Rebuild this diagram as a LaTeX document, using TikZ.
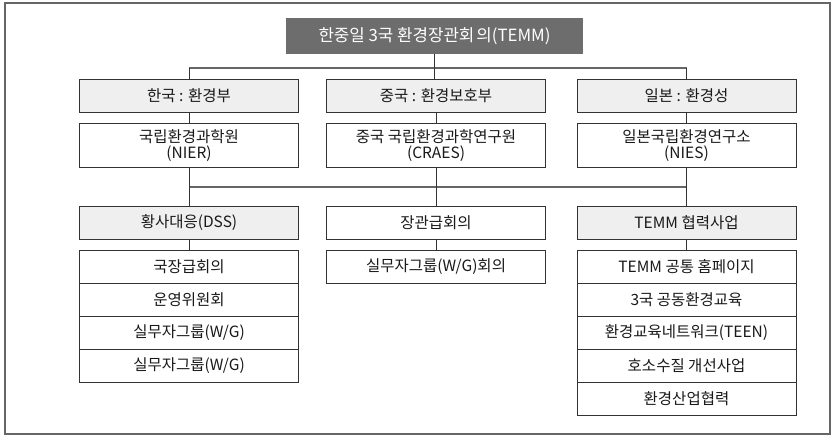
\documentclass[tikz,border=0pt]{standalone}
\usepackage{fontspec}
\setmainfont{Noto Sans CJK KR}
\definecolor{titlefill}{HTML}{6D6D6D}
\definecolor{lightfill}{HTML}{EFEFEF}
\definecolor{edge}{HTML}{333333}
\definecolor{busline}{HTML}{666666}
\tikzset{
  box/.style={draw=edge, line width=0.9pt, minimum width=219pt, minimum height=33pt, inner sep=0pt, align=center, font=\fontsize{15.5}{17}\selectfont, text=black!90, anchor=north},
  graybox/.style={box, fill=lightfill},
  tallbox/.style={box, minimum height=44pt},
  conn/.style={draw=edge, line width=0.9pt},
  bus/.style={draw=busline, line width=1.6pt}
}
\begin{document}
\begin{tikzpicture}[x=1pt,y=-1pt]
\useasboundingbox (0,0) rectangle (835,436);
\draw[draw=busline, line width=1.2pt] (5,3) rectangle (830,434);
% title
\node[fill=titlefill, text=white, minimum width=297pt, minimum height=36pt, inner sep=0pt, font=\fontsize{16.8}{18}\selectfont] (title) at (434.5,36) {한중일 3국 환경장관회\hspace{2pt}의(TEMM)};
% row 1
\node[graybox] (k1) at (189,79) {한국 : 환경부};
\node[graybox] (c1) at (436,79) {중국 : 환경보호부};
\node[graybox] (j1) at (686.5,79) {일본 : 환경성};
% row 2
\node[tallbox] (k2) at (189,123) {국립환경과학원\\[-1pt](NIER)};
\node[tallbox] (c2) at (436,123) {중국 국립환경과학연구원\\[-1pt](CRAES)};
\node[tallbox] (j2) at (686.5,123) {일본국립환경연구소\\[-1pt](NIES)};
% row 3
\node[graybox] (k3) at (189,206) {황사대응(DSS)};
\node[box] (c3) at (436,206) {장관급회의};
\node[graybox] (j3) at (686.5,206) {TEMM 협력사업};
% left stack
\node[box] (k4) at (189,250) {국장급회의};
\node[box] (k5) at (189,283) {운영위원회};
\node[box] (k6) at (189,316) {실무자그룹(W/G)};
\node[box] (k7) at (189,349) {실무자그룹(W/G)};
% middle
\node[box] (c4) at (436,250) {실무자그룹(W/G)회의};
% right stack
\node[box] (j4) at (686.5,250) {TEMM 공통 홈페이지};
\node[box] (j5) at (686.5,283) {3국 공동환경교육};
\node[box] (j6) at (686.5,316) {환경교육네트워크(TEEN)};
\node[box] (j7) at (686.5,349) {호소수질 개선사업};
\node[box] (j8) at (686.5,382) {환경산업협력};
% connectors
\coordinate (busA) at (434.5,68);
\coordinate (busB) at (434.5,187);
\draw[bus] (k1.north |- busA) -- (j1.north |- busA);
\draw[conn] (title.south) -- (title.south |- c1.north);
\draw[conn] (k1.north |- busA) -- (k1.north);
\draw[conn] (j1.north |- busA) -- (j1.north);
\draw[conn] (k1.south) -- (k2.north);
\draw[conn] (c1.south) -- (c2.north);
\draw[conn] (j1.south) -- (j2.north);
\draw[bus] (k2.south |- busB) -- (j2.south |- busB);
\draw[conn] (k2.south) -- (k3.north);
\draw[conn] (c2.south) -- (c3.north);
\draw[conn] (j2.south) -- (j3.north);
\draw[conn] (k3.south) -- (k4.north);
\draw[conn] (c3.south) -- (c4.north);
\draw[conn] (j3.south) -- (j4.north);
\end{tikzpicture}
\end{document}
